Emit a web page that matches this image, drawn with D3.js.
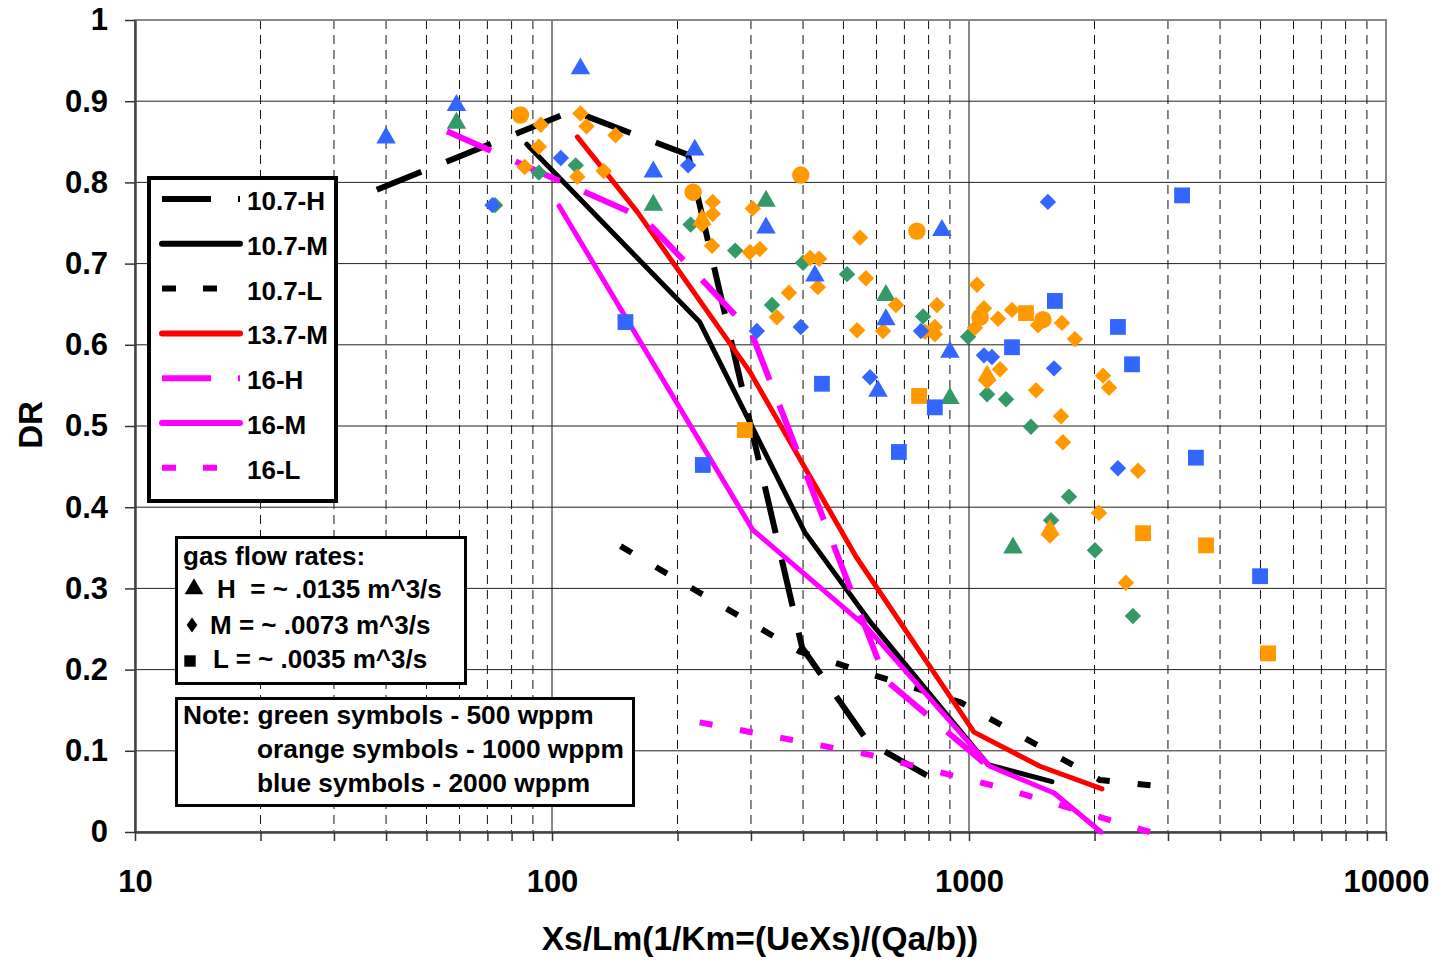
<!DOCTYPE html>
<html>
<head>
<meta charset="utf-8">
<script src="https://cdn.jsdelivr.net/npm/d3@7"></script>
<style>
  html, body { margin: 0; padding: 0; background: #fff; }
  svg { display: block; font-family: "Liberation Sans", Arial, sans-serif; font-weight: bold; }
</style>
</head>
<body>
<svg id="chart" width="1439" height="961"></svg>
<script>
// values: [Xs/Lm, DR]
const xLabels = [10, 100, 1000, 10000];
const yTicks = [0, 0.1, 0.2, 0.3, 0.4, 0.5, 0.6, 0.7, 0.8, 0.9, 1];

const line107H = [[38, 0.791], [112, 0.888], [212, 0.834], [398, 0.227], [573, 0.111], [828, 0.064]];
const line107M = [[87, 0.847], [226, 0.628], [404, 0.369], [579, 0.259], [1111, 0.083], [1581, 0.062]];
const line107L = [[146, 0.352], [393, 0.222], [683, 0.183], [952, 0.160], [2061, 0.064], [2793, 0.057]];
const line137M = [[115, 0.856], [160, 0.764], [298, 0.567], [536, 0.339], [1028, 0.123], [1479, 0.081], [2084, 0.053]];
const line16H = [[56, 0.863], [166, 0.756], [300, 0.616], [632, 0.187], [1122, 0.079]];
const line16M = [[104, 0.771], [303, 0.372], [569, 0.252], [1122, 0.081], [1599, 0.048], [2073, 0]];
const line16L = [[226, 0.135], [579, 0.095], [1187, 0.055], [2717, 0]];

const greenTri = [[59, 0.873], [175, 0.772], [326, 0.777], [632, 0.661], [900, 0.534], [1275, 0.350]];
const greenDia = [[73, 0.772], [93, 0.812], [114, 0.821], [215, 0.748], [275, 0.716], [337, 0.649], [400, 0.701],
  [510, 0.687], [776, 0.635], [995, 0.610], [1105, 0.539], [1227, 0.533], [1408, 0.499], [1573, 0.384],
  [1737, 0.413], [2005, 0.347], [2472, 0.266]];

const orangeTri = [[229, 0.754], [1105, 0.562], [1564, 0.372]];
const orangeDia = [[93, 0.844], [94, 0.871], [86, 0.819], [115, 0.807], [117, 0.885], [121, 0.869], [142, 0.858],
  [133, 0.814], [243, 0.776], [243, 0.761], [229, 0.748], [242, 0.722], [298, 0.714], [315, 0.718], [303, 0.768],
  [370, 0.664], [346, 0.634], [416, 0.707], [437, 0.706], [434, 0.671], [548, 0.732], [566, 0.682], [539, 0.618],
  [622, 0.617], [668, 0.649], [838, 0.649], [828, 0.622], [828, 0.613], [784, 0.616], [1045, 0.674], [1033, 0.621],
  [1086, 0.645], [1174, 0.632], [1268, 0.643], [1464, 0.624], [1671, 0.627], [1795, 0.607], [1187, 0.570],
  [1105, 0.555], [1448, 0.544], [1662, 0.512], [1680, 0.480], [2096, 0.562], [2167, 0.547], [2543, 0.445],
  [2050, 0.393], [1564, 0.365], [2379, 0.307]];
const orangeSq = [[290, 0.495], [759, 0.537], [1370, 0.639], [2615, 0.368], [3702, 0.353], [5214, 0.220]];
const orangeCirc = [[84, 0.883], [218, 0.788], [395, 0.809], [750, 0.740], [1063, 0.634], [1504, 0.631]];

const blueTri = [[40, 0.855], [59, 0.895], [117, 0.940], [175, 0.813], [220, 0.840], [326, 0.744], [427, 0.685],
  [632, 0.631], [605, 0.543], [861, 0.741], [900, 0.591]];
const blueDia = [[72, 0.772], [105, 0.830], [212, 0.821], [310, 0.617], [395, 0.622], [579, 0.560], [767, 0.617],
  [1086, 0.587], [1135, 0.585], [1546, 0.776], [1599, 0.571], [2276, 0.448]];
const blueSq = [[150, 0.628], [230, 0.452], [444, 0.552], [679, 0.468], [828, 0.523], [1268, 0.597], [1607, 0.654],
  [2276, 0.622], [2460, 0.576], [3243, 0.784], [3501, 0.461], [4989, 0.315]];

const GREEN = '#339966', ORANGE = '#FF9900', BLUE = '#3366FF';
const LONG = '48,27', SHORT = '13,28';

const lineSeries = [
  { name: '10.7-H', data: line107H, color: '#000', dash: LONG },
  { name: '10.7-M', data: line107M, color: '#000', dash: null },
  { name: '10.7-L', data: line107L, color: '#000', dash: SHORT },
  { name: '13.7-M', data: line137M, color: '#FF0000', dash: null },
  { name: '16-H', data: line16H, color: '#FF00FF', dash: LONG },
  { name: '16-M', data: line16M, color: '#FF00FF', dash: null },
  { name: '16-L', data: line16L, color: '#FF00FF', dash: SHORT }
];

const markerSeries = [
  { data: greenDia, color: GREEN, shape: 'dia' },
  { data: greenTri, color: GREEN, shape: 'tri' },
  { data: orangeDia, color: ORANGE, shape: 'dia' },
  { data: orangeSq, color: ORANGE, shape: 'sq' },
  { data: orangeCirc, color: ORANGE, shape: 'circ' },
  { data: orangeTri, color: ORANGE, shape: 'tri' },
  { data: blueDia, color: BLUE, shape: 'dia' },
  { data: blueSq, color: BLUE, shape: 'sq' },
  { data: blueTri, color: BLUE, shape: 'tri' }
];

const svg = d3.select('#chart');
const x = d3.scaleLog().domain([10, 10000]).range([135, 1386]);
const y = d3.scaleLinear().domain([0, 1]).range([832, 20]);

const grid = svg.append('g');

// vertical grid: decades solid, the rest dashed
x.ticks().forEach(t => {
  if (t === 10 || t === 10000) return;
  grid.append('line')
    .attr('x1', x(t)).attr('x2', x(t))
    .attr('y1', y(1)).attr('y2', y(0))
    .attr('stroke', '#111')
    .attr('stroke-width', 1)
    .attr('stroke-dasharray', xLabels.includes(t) ? null : '9,6');
});

yTicks.forEach(t => {
  grid.append('line')
    .attr('x1', x(10)).attr('x2', x(10000))
    .attr('y1', y(t)).attr('y2', y(t))
    .attr('stroke', '#222')
    .attr('stroke-width', 1);
});

svg.append('rect')
  .attr('x', x(10)).attr('y', y(1))
  .attr('width', x(10000) - x(10)).attr('height', y(0) - y(1))
  .attr('fill', 'none')
  .attr('stroke', '#888')
  .attr('stroke-width', 2);

// axes
const yAxis = svg.append('g')
  .attr('transform', `translate(${x(10)},0)`)
  .call(d3.axisLeft(y).tickValues(yTicks).tickSize(10).tickSizeOuter(0).tickPadding(17).tickFormat(d3.format('~g')));

const xAxis = svg.append('g')
  .attr('transform', `translate(0,${y(0)})`)
  .call(d3.axisBottom(x).tickValues(x.ticks()).tickSize(9).tickSizeOuter(0).tickPadding(29)
    .tickFormat(d => xLabels.includes(d) ? d : ''));

[yAxis, xAxis].forEach(ax => {
  ax.select('.domain').attr('stroke', '#444').attr('stroke-width', 2.5);
  ax.selectAll('.tick line').attr('stroke', '#333').attr('stroke-width', 1.5);
  ax.selectAll('.tick text')
    .attr('fill', '#000')
    .style('font-size', '31px')
    .style('font-weight', 'bold')
    .style('font-family', '"Liberation Sans", Arial, sans-serif');
});

svg.append('text')
  .attr('x', 760).attr('y', 950)
  .attr('text-anchor', 'middle')
  .style('font-size', '33.5px')
  .text('Xs/Lm(1/Km=(UeXs)/(Qa/b))');

svg.append('text')
  .attr('transform', 'translate(42,425) rotate(-90)')
  .attr('text-anchor', 'middle')
  .style('font-size', '33px')
  .text('DR');

// lines
const line = d3.line().x(d => x(d[0])).y(d => y(d[1]));

lineSeries.forEach(s => {
  svg.append('path')
    .datum(s.data)
    .attr('d', line)
    .attr('fill', 'none')
    .attr('stroke', s.color)
    .attr('stroke-width', s.dash ? 6 : 5)
    .attr('stroke-linejoin', 'round')
    .attr('stroke-linecap', s.dash ? 'butt' : 'round')
    .attr('stroke-dasharray', s.dash);
});

// markers
const symbolFor = {
  tri: d3.symbol(d3.symbolTriangle, 165),
  sq: d3.symbol(d3.symbolSquare, 250),
  circ: d3.symbol(d3.symbolCircle, 240),
  dia: d3.symbol(d3.symbolSquare, 135)
};

markerSeries.forEach(s => {
  svg.append('g')
    .selectAll('path')
    .data(s.data)
    .join('path')
    .attr('d', symbolFor[s.shape])
    .attr('transform', d => `translate(${x(d[0])},${y(d[1])})` + (s.shape === 'dia' ? ' rotate(45)' : ''))
    .attr('fill', s.color);
});

// legend: line series
const legend = svg.append('g');
legend.append('rect')
  .attr('x', 149).attr('y', 178).attr('width', 187).attr('height', 323)
  .attr('fill', '#fff').attr('stroke', '#000').attr('stroke-width', 4);

lineSeries.forEach((s, i) => {
  let ly = 199 + i * 44.8;
  legend.append('line')
    .attr('x1', 162).attr('x2', 240)
    .attr('y1', ly).attr('y2', ly)
    .attr('stroke', s.color)
    .attr('stroke-width', 6)
    .attr('stroke-linecap', s.dash ? 'butt' : 'round')
    .attr('stroke-dasharray', s.dash ? (s.dash === LONG ? '49,27' : '14,27') : null);
  legend.append('text')
    .attr('x', 247).attr('y', ly + 11)
    .style('font-size', '26px')
    .text(s.name);
});

// legend: gas flow rates
const gas = svg.append('g');
gas.append('rect')
  .attr('x', 176.5).attr('y', 537.5).attr('width', 289).attr('height', 146)
  .attr('fill', '#fff').attr('stroke', '#000').attr('stroke-width', 3);

gas.append('text').attr('x', 183).attr('y', 565).style('font-size', '26px').text('gas flow rates:');

const gasRows = [
  { label: 'H\u00a0\u00a0= ~ .0135 m^3/s', tx: 217, by: 598, shape: 'tri' },
  { label: 'M = ~ .0073 m^3/s', tx: 210, by: 634, shape: 'dia' },
  { label: 'L = ~ .0035 m^3/s', tx: 213, by: 668, shape: 'sq' }
];

gasRows.forEach(r => {
  let sym = r.shape === 'tri' ? d3.symbol(d3.symbolTriangle, 150)
    : r.shape === 'dia' ? d3.symbol(d3.symbolSquare, 90) : d3.symbol(d3.symbolSquare, 130);
  let tf = r.shape === 'tri' ? `translate(194,${r.by - 9})`
    : r.shape === 'dia' ? `translate(192,${r.by - 9}) scale(0.8,1.1) rotate(45)` : `translate(190,${r.by - 7})`;
  gas.append('path').attr('d', sym).attr('transform', tf).attr('fill', '#000');
  gas.append('text').attr('x', r.tx).attr('y', r.by).style('font-size', '26px').text(r.label);
});

// legend: note on colours
const note = svg.append('g');
note.append('rect')
  .attr('x', 176.5).attr('y', 698.5).attr('width', 457).attr('height', 107)
  .attr('fill', '#fff').attr('stroke', '#000').attr('stroke-width', 3);

note.append('text').attr('x', 183).attr('y', 724).style('font-size', '26.3px').text('Note: green symbols - 500 wppm');
note.append('text').attr('x', 257).attr('y', 758).style('font-size', '26.3px').text('orange symbols - 1000 wppm');
note.append('text').attr('x', 257).attr('y', 792).style('font-size', '26.3px').text('blue symbols - 2000 wppm');
</script>
</body>
</html>
